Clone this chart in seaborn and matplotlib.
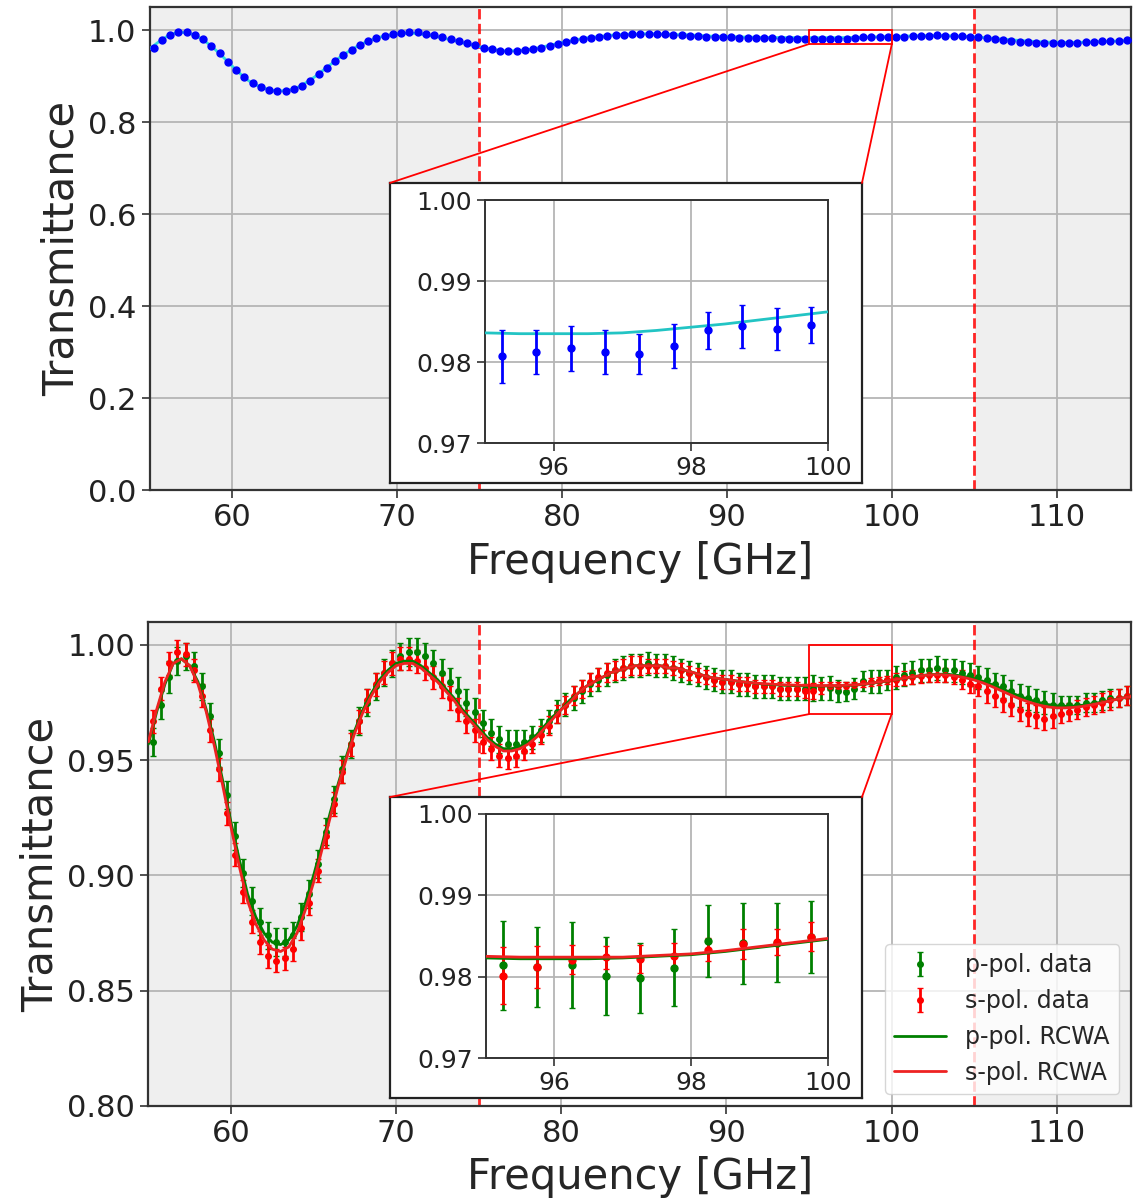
import numpy as np
import matplotlib
matplotlib.use("Agg")
import matplotlib.pyplot as plt
import seaborn as sns
from matplotlib.patches import Rectangle, ConnectionPatch

# measurement grid (data every 0.5 GHz, RCWA every 0.5 GHz)
freq = np.arange(55.25, 115.0, 0.5)
freq_fit = np.arange(55.0, 115.01, 0.5)

# top panel: measured transmittance + fit
t_data = [0.961, 0.9775, 0.989, 0.995, 0.9955, 0.990, 0.980, 0.966, 0.9495, 0.931,
          0.913, 0.897, 0.8845, 0.8755, 0.8695, 0.867, 0.8675, 0.871, 0.8795, 0.890,
          0.9035, 0.918, 0.932, 0.9455, 0.957, 0.967, 0.9755, 0.9825, 0.988, 0.992,
          0.9945, 0.9955, 0.995, 0.9925, 0.989, 0.985, 0.9805, 0.976, 0.971, 0.967,
          0.962, 0.9585, 0.9555, 0.954, 0.9545, 0.956, 0.9585, 0.962, 0.966, 0.9705,
          0.974, 0.9775, 0.9805, 0.9835, 0.9855, 0.9875, 0.989, 0.990, 0.991, 0.991,
          0.9915, 0.991, 0.991, 0.990, 0.989, 0.988, 0.987, 0.986, 0.985, 0.984,
          0.984, 0.983, 0.983, 0.982, 0.982, 0.982, 0.981, 0.981, 0.981, 0.9805,
          0.9807, 0.9812, 0.9817, 0.9812, 0.9810, 0.9820, 0.9839, 0.9844, 0.9841, 0.9846,
          0.9855, 0.986, 0.987, 0.9875, 0.988, 0.9885, 0.988, 0.9875, 0.9865, 0.985,
          0.984, 0.9825, 0.9805, 0.979, 0.977, 0.975, 0.9735, 0.9725, 0.9715, 0.9715,
          0.972, 0.9725, 0.973, 0.974, 0.9745, 0.9755, 0.9765, 0.977, 0.978, 0.979]
t_err = [0.003, 0.003, 0.003, 0.003, 0.003, 0.003, 0.003, 0.003, 0.003, 0.003,
         0.003, 0.003, 0.003, 0.003, 0.003, 0.003, 0.003, 0.003, 0.003, 0.003,
         0.003, 0.003, 0.003, 0.003, 0.003, 0.003, 0.003, 0.003, 0.003, 0.003,
         0.003, 0.003, 0.003, 0.003, 0.003, 0.003, 0.003, 0.003, 0.003, 0.003,
         0.003, 0.003, 0.003, 0.003, 0.003, 0.003, 0.003, 0.003, 0.003, 0.003,
         0.003, 0.003, 0.003, 0.003, 0.003, 0.003, 0.003, 0.003, 0.003, 0.003,
         0.003, 0.003, 0.003, 0.003, 0.003, 0.003, 0.003, 0.003, 0.003, 0.003,
         0.003, 0.003, 0.003, 0.003, 0.003, 0.003, 0.003, 0.003, 0.003, 0.003,
         0.0033, 0.0027, 0.0028, 0.0027, 0.0025, 0.0027, 0.0023, 0.0027, 0.0026, 0.0022,
         0.003, 0.003, 0.003, 0.003, 0.003, 0.003, 0.003, 0.003, 0.003, 0.003,
         0.003, 0.003, 0.003, 0.003, 0.003, 0.003, 0.003, 0.003, 0.003, 0.003,
         0.003, 0.003, 0.003, 0.003, 0.003, 0.003, 0.003, 0.003, 0.003, 0.003]
t_fit = [0.959, 0.973, 0.985, 0.993, 0.995, 0.992, 0.984, 0.972, 0.957, 0.940,
         0.922, 0.905, 0.890, 0.880, 0.873, 0.869, 0.868, 0.870, 0.876, 0.886,
         0.898, 0.912, 0.926, 0.940, 0.952, 0.963, 0.972, 0.979, 0.985, 0.989,
         0.992, 0.993, 0.993, 0.991, 0.988, 0.985, 0.981, 0.977, 0.972, 0.968,
         0.964, 0.960, 0.957, 0.955, 0.955, 0.956, 0.958, 0.961, 0.965, 0.969,
         0.973, 0.976, 0.980, 0.983, 0.985, 0.987, 0.989, 0.990, 0.991, 0.991,
         0.992, 0.992, 0.991, 0.991, 0.990, 0.990, 0.989, 0.988, 0.987, 0.9865,
         0.986, 0.9855, 0.985, 0.9846, 0.9843, 0.9840, 0.9838, 0.9837, 0.9836, 0.9836,
         0.9836, 0.9835, 0.9835, 0.9835, 0.9836, 0.9839, 0.9843, 0.9847, 0.9852, 0.9857,
         0.9862, 0.9867, 0.9872, 0.9876, 0.9879, 0.9880, 0.9879, 0.9876, 0.9870, 0.9862,
         0.9852, 0.9840, 0.9826, 0.9811, 0.9796, 0.9781, 0.9768, 0.9756, 0.9746, 0.9738,
         0.9733, 0.9731, 0.9732, 0.9735, 0.9740, 0.9746, 0.9753, 0.9760, 0.9767, 0.9774,
         0.978]

# bottom panel: p- and s-polarisation
p_data = [0.958, 0.974, 0.986, 0.993, 0.995, 0.991, 0.982, 0.969, 0.953, 0.935,
          0.917, 0.901, 0.889, 0.880, 0.874, 0.871, 0.871, 0.874, 0.882, 0.892,
          0.905, 0.919, 0.933, 0.946, 0.957, 0.967, 0.975, 0.982, 0.988, 0.992,
          0.995, 0.997, 0.997, 0.995, 0.992, 0.988, 0.984, 0.980, 0.975, 0.971,
          0.966, 0.962, 0.959, 0.957, 0.957, 0.958, 0.960, 0.963, 0.967, 0.971,
          0.974, 0.977, 0.980, 0.983, 0.985, 0.987, 0.989, 0.990, 0.991, 0.991,
          0.992, 0.991, 0.991, 0.990, 0.989, 0.988, 0.987, 0.986, 0.985, 0.984,
          0.984, 0.983, 0.983, 0.982, 0.982, 0.982, 0.981, 0.981, 0.981, 0.981,
          0.9814, 0.9812, 0.9814, 0.9801, 0.9798, 0.9811, 0.9844, 0.9841, 0.9842, 0.9849,
          0.986, 0.987, 0.988, 0.989, 0.989, 0.990, 0.989, 0.989, 0.988, 0.987,
          0.986, 0.985, 0.983, 0.982, 0.980, 0.978, 0.977, 0.976, 0.975, 0.974,
          0.974, 0.974, 0.974, 0.975, 0.975, 0.976, 0.977, 0.977, 0.978, 0.979]
p_err = [0.006, 0.006, 0.007, 0.006, 0.006, 0.006, 0.006, 0.006, 0.006, 0.006,
         0.006, 0.006, 0.006, 0.006, 0.006, 0.006, 0.006, 0.006, 0.006, 0.006,
         0.006, 0.006, 0.006, 0.006, 0.006, 0.006, 0.006, 0.006, 0.006, 0.006,
         0.006, 0.006, 0.006, 0.006, 0.006, 0.006, 0.006, 0.006, 0.006, 0.006,
         0.006, 0.006, 0.006, 0.006, 0.006, 0.005, 0.005, 0.005, 0.005, 0.005,
         0.005, 0.005, 0.005, 0.005, 0.005, 0.005, 0.005, 0.005, 0.005, 0.005,
         0.005, 0.005, 0.005, 0.005, 0.005, 0.005, 0.005, 0.005, 0.005, 0.005,
         0.005, 0.005, 0.005, 0.005, 0.005, 0.005, 0.005, 0.005, 0.005, 0.005,
         0.0055, 0.0049, 0.0053, 0.0048, 0.0043, 0.0047, 0.0044, 0.0050, 0.0049, 0.0044,
         0.005, 0.005, 0.005, 0.005, 0.005, 0.005, 0.005, 0.005, 0.005, 0.005,
         0.005, 0.005, 0.005, 0.005, 0.005, 0.005, 0.005, 0.005, 0.005, 0.005,
         0.004, 0.004, 0.004, 0.004, 0.004, 0.004, 0.004, 0.004, 0.004, 0.004]
s_data = [0.967, 0.981, 0.992, 0.997, 0.996, 0.989, 0.978, 0.963, 0.946, 0.927,
          0.909, 0.893, 0.880, 0.871, 0.865, 0.863, 0.864, 0.868, 0.877, 0.888,
          0.902, 0.917, 0.931, 0.945, 0.957, 0.967, 0.976, 0.983, 0.988, 0.992,
          0.994, 0.994, 0.993, 0.990, 0.986, 0.982, 0.977, 0.972, 0.967, 0.963,
          0.958, 0.955, 0.952, 0.951, 0.952, 0.954, 0.957, 0.961, 0.965, 0.970,
          0.974, 0.978, 0.981, 0.984, 0.986, 0.988, 0.989, 0.990, 0.991, 0.991,
          0.991, 0.991, 0.991, 0.990, 0.989, 0.988, 0.987, 0.986, 0.985, 0.984,
          0.984, 0.983, 0.983, 0.982, 0.982, 0.982, 0.981, 0.981, 0.981, 0.980,
          0.9801, 0.9812, 0.9821, 0.9824, 0.9822, 0.9826, 0.9833, 0.9840, 0.9843, 0.9849,
          0.985, 0.9855, 0.986, 0.9865, 0.987, 0.987, 0.987, 0.986, 0.985, 0.983,
          0.982, 0.980, 0.978, 0.976, 0.974, 0.972, 0.970, 0.969, 0.968, 0.969,
          0.970, 0.971, 0.972, 0.973, 0.974, 0.975, 0.976, 0.977, 0.978, 0.979]
s_err = [0.005, 0.005, 0.005, 0.005, 0.005, 0.005, 0.005, 0.005, 0.005, 0.005,
         0.005, 0.005, 0.005, 0.005, 0.005, 0.005, 0.005, 0.005, 0.005, 0.005,
         0.005, 0.005, 0.005, 0.005, 0.005, 0.005, 0.005, 0.005, 0.005, 0.005,
         0.005, 0.005, 0.005, 0.005, 0.005, 0.005, 0.005, 0.005, 0.005, 0.005,
         0.005, 0.005, 0.005, 0.005, 0.005, 0.004, 0.004, 0.004, 0.004, 0.004,
         0.004, 0.004, 0.004, 0.004, 0.004, 0.004, 0.004, 0.004, 0.004, 0.004,
         0.003, 0.003, 0.003, 0.003, 0.003, 0.003, 0.003, 0.003, 0.003, 0.003,
         0.003, 0.003, 0.003, 0.003, 0.003, 0.003, 0.003, 0.003, 0.003, 0.003,
         0.0035, 0.0026, 0.0018, 0.0014, 0.0017, 0.0015, 0.0014, 0.0018, 0.0016, 0.0018,
         0.003, 0.003, 0.003, 0.003, 0.003, 0.003, 0.003, 0.003, 0.004, 0.004,
         0.004, 0.005, 0.005, 0.005, 0.005, 0.005, 0.005, 0.005, 0.005, 0.005,
         0.004, 0.004, 0.004, 0.004, 0.004, 0.004, 0.004, 0.004, 0.004, 0.004]
p_fit = [0.957, 0.971, 0.983, 0.992, 0.994, 0.991, 0.984, 0.972, 0.958, 0.941,
         0.923, 0.907, 0.892, 0.882, 0.875, 0.871, 0.870, 0.872, 0.878, 0.888,
         0.900, 0.913, 0.927, 0.940, 0.952, 0.963, 0.972, 0.979, 0.985, 0.989,
         0.992, 0.993, 0.993, 0.991, 0.988, 0.985, 0.981, 0.977, 0.972, 0.968,
         0.964, 0.960, 0.957, 0.955, 0.955, 0.956, 0.958, 0.961, 0.965, 0.969,
         0.972, 0.976, 0.979, 0.982, 0.984, 0.986, 0.988, 0.989, 0.990, 0.991,
         0.991, 0.991, 0.991, 0.990, 0.990, 0.989, 0.988, 0.987, 0.986, 0.9855,
         0.985, 0.9845, 0.984, 0.9836, 0.9832, 0.9829, 0.9827, 0.9825, 0.9824, 0.9823,
         0.9823, 0.9822, 0.9822, 0.9822, 0.9823, 0.9825, 0.9827, 0.9831, 0.9836, 0.9841,
         0.9846, 0.9852, 0.9858, 0.9864, 0.9869, 0.9872, 0.9873, 0.9872, 0.9868, 0.9862,
         0.9854, 0.9843, 0.9830, 0.9815, 0.9800, 0.9785, 0.9771, 0.9759, 0.9749, 0.9741,
         0.9736, 0.9734, 0.9735, 0.9738, 0.9743, 0.9749, 0.9756, 0.9763, 0.9770, 0.9777,
         0.9783]
s_fit = [0.958, 0.972, 0.984, 0.992, 0.994, 0.991, 0.983, 0.971, 0.956, 0.939,
         0.921, 0.904, 0.889, 0.879, 0.872, 0.868, 0.867, 0.869, 0.875, 0.885,
         0.897, 0.911, 0.925, 0.939, 0.951, 0.962, 0.971, 0.978, 0.984, 0.988,
         0.991, 0.992, 0.992, 0.990, 0.987, 0.984, 0.980, 0.976, 0.971, 0.967,
         0.963, 0.959, 0.956, 0.954, 0.954, 0.955, 0.957, 0.960, 0.964, 0.968,
         0.972, 0.975, 0.979, 0.982, 0.984, 0.986, 0.988, 0.989, 0.990, 0.991,
         0.991, 0.991, 0.991, 0.990, 0.990, 0.989, 0.988, 0.987, 0.986, 0.9855,
         0.985, 0.9845, 0.984, 0.9836, 0.9833, 0.9831, 0.9829, 0.9827, 0.9826, 0.9825,
         0.9825, 0.9824, 0.9824, 0.9824, 0.9824, 0.9826, 0.9828, 0.9832, 0.9837, 0.9842,
         0.9847, 0.9853, 0.9859, 0.9864, 0.9868, 0.9871, 0.9871, 0.9869, 0.9864, 0.9857,
         0.9848, 0.9836, 0.9822, 0.9806, 0.9790, 0.9774, 0.9760, 0.9748, 0.9738, 0.9731,
         0.9727, 0.9727, 0.9729, 0.9733, 0.9739, 0.9746, 0.9754, 0.9762, 0.9770, 0.9777,
         0.9783]

band = (75, 105)
zoom_x = (95, 100)
zoom_y = (0.97, 1.00)

sns.set_style("whitegrid", {"grid.color": "#b5b5b5", "axes.edgecolor": "#333333"})
plt.rcParams["font.family"] = ["DejaVu Sans"]
plt.rcParams.update({
    "xtick.bottom": True, "ytick.left": True,
    "xtick.major.size": 6, "ytick.major.size": 6,
    "xtick.major.width": 1.2, "ytick.major.width": 1.2,
    "xtick.color": "#333333", "ytick.color": "#333333",
    "xtick.labelcolor": "#222222", "ytick.labelcolor": "#222222",
    "grid.linewidth": 1.3, "axes.linewidth": 1.6,
})

fig = plt.figure(figsize=(11.33, 12.02), dpi=100)
ax_top = fig.add_axes([0.132, 0.5923, 0.8663, 0.4018])
ax_bot = fig.add_axes([0.131, 0.0799, 0.8673, 0.4027])


def style_main(ax):
    ax.set_facecolor("#efefef")
    ax.axvspan(band[0], band[1], color="white", zorder=0)
    for b in band:
        ax.axvline(b, color="red", ls="--", lw=2, alpha=0.85, zorder=1)
    ax.set_xlim(55, 114.5)
    ax.set_xticks([60, 70, 80, 90, 100, 110])
    ax.tick_params(labelsize=22)
    ax.set_xlabel("Frequency [GHz]", fontsize=30, labelpad=6)
    ax.set_ylabel("Transmittance", fontsize=30)
    ax.add_patch(Rectangle((zoom_x[0], zoom_y[0]), zoom_x[1] - zoom_x[0],
                           zoom_y[1] - zoom_y[0], fill=False, ec="red", lw=1.3, zorder=5))


def add_inset(ax, frame_rect, inset_rect):
    frame = fig.add_axes(frame_rect)
    frame.set_facecolor("white")
    frame.grid(False)
    frame.set_xticks([])
    frame.set_yticks([])
    for sp in frame.spines.values():
        sp.set_color("#222222")
        sp.set_linewidth(1.6)
    ins = fig.add_axes(inset_rect)
    ins.set_facecolor("white")
    ins.set_xlim(*zoom_x)
    ins.set_ylim(*zoom_y)
    ins.set_xticks([96, 98, 100])
    ins.set_yticks([0.97, 0.98, 0.99, 1.00])
    ins.set_yticklabels(["0.97", "0.98", "0.99", "1.00"])
    ins.tick_params(labelsize=18)
    for sp in ins.spines.values():
        sp.set_color("#333333")
        sp.set_linewidth(1.4)
    for xa, xb in [(zoom_x[0], 0), (zoom_x[1], 1)]:
        con = ConnectionPatch(xyA=(xa, zoom_y[0]), coordsA=ax.transData,
                              xyB=(xb, 1), coordsB=frame.transAxes,
                              color="red", lw=1.3)
        fig.add_artist(con)
    return ins


# ---- top panel
style_main(ax_top)
sns.lineplot(x=freq_fit, y=t_fit, ax=ax_top, color="#33dddd", lw=2, zorder=3)
ax_top.errorbar(freq, t_data, yerr=t_err, fmt="o", color="blue", ms=5,
                elinewidth=1.5, capsize=1.5, zorder=4)
ax_top.set_ylim(0, 1.05)
ax_top.set_yticks([0.0, 0.2, 0.4, 0.6, 0.8, 1.0])
ax_top.set_yticklabels(["0.0", "0.2", "0.4", "0.6", "0.8", "1.0"])

ins_top = add_inset(ax_top, [0.3442, 0.5982, 0.4166, 0.2496],
                    [0.4281, 0.6314, 0.3027, 0.2022])
sns.lineplot(x=freq_fit, y=t_fit, ax=ins_top, color="#22c4c4", lw=2, zorder=3)
ins_top.errorbar(freq, t_data, yerr=t_err, fmt="o", color="blue", ms=5,
                 elinewidth=2, capsize=2, zorder=4)
ins_top.set_xlim(*zoom_x)
ins_top.set_ylim(*zoom_y)

# ---- bottom panel
style_main(ax_bot)
ax_bot.errorbar(freq, p_data, yerr=p_err, fmt="o", color="green", ms=4,
                elinewidth=2, capsize=2, zorder=3, label="p-pol. data")
ax_bot.errorbar(freq, s_data, yerr=s_err, fmt="o", color="red", ms=4,
                elinewidth=2, capsize=2, zorder=3, label="s-pol. data")
sns.lineplot(x=freq_fit, y=p_fit, ax=ax_bot, color="green", lw=2, zorder=4,
             label="p-pol. RCWA")
sns.lineplot(x=freq_fit, y=s_fit, ax=ax_bot, color="#ee2222", lw=2, zorder=4,
             label="s-pol. RCWA")
ax_bot.set_ylim(0.80, 1.01)
ax_bot.set_yticks([0.80, 0.85, 0.90, 0.95, 1.00])
ax_bot.set_yticklabels(["0.80", "0.85", "0.90", "0.95", "1.00"])
handles, labels = ax_bot.get_legend_handles_labels()
order = [labels.index(l) for l in ["p-pol. data", "s-pol. data", "p-pol. RCWA", "s-pol. RCWA"]]
ax_bot.legend([handles[i] for i in order], [labels[i] for i in order],
              loc="lower right", fontsize=17, framealpha=0.8, handlelength=2.2)

ins_bot = add_inset(ax_bot, [0.3442, 0.0865, 0.4166, 0.2504],
                    [0.4290, 0.1198, 0.3018, 0.2030])
ins_bot.errorbar(freq, p_data, yerr=p_err, fmt="o", color="green", ms=5,
                 elinewidth=2, capsize=2, zorder=3)
ins_bot.errorbar(freq, s_data, yerr=s_err, fmt="o", color="red", ms=5,
                 elinewidth=2, capsize=2, zorder=3)
sns.lineplot(x=freq_fit, y=p_fit, ax=ins_bot, color="green", lw=2, zorder=4)
sns.lineplot(x=freq_fit, y=s_fit, ax=ins_bot, color="#ee2222", lw=2, zorder=4)
ins_bot.set_xlim(*zoom_x)
ins_bot.set_ylim(*zoom_y)

fig.savefig("out.png", dpi=100)
